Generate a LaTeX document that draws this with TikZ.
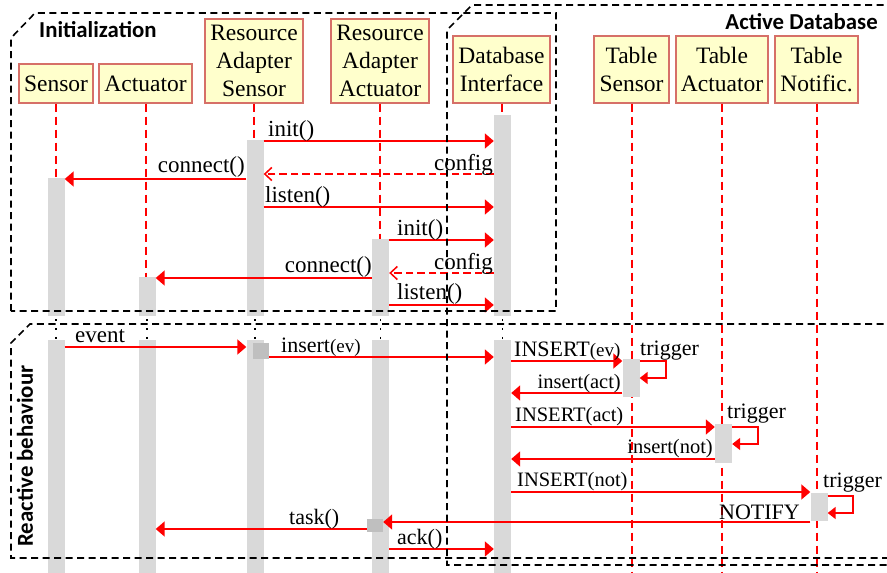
\documentclass[tikz,border=0pt]{standalone}
\usepackage{fontspec}
\setmainfont{Liberation Serif}
\newfontfamily\headsans{Carlito}
\usetikzlibrary{arrows.meta}

\definecolor{msgred}{RGB}{255,0,0}
\definecolor{boxfill}{RGB}{255,255,204}
\definecolor{boxline}{RGB}{214,112,104}
\definecolor{actgray}{RGB}{217,217,217}
\definecolor{sqgray}{RGB}{191,191,191}

\tikzset{
  headbox/.style={draw=boxline, line width=1.2pt, fill=boxfill, inner sep=0pt,
    align=center, font=\fontsize{23.5}{28}\selectfont},
  lifeline/.style={draw=msgred, line width=2pt, dash pattern=on 8pt off 5pt},
  actbar/.style={fill=actgray, draw=none, inner sep=0pt, minimum width=17pt},
  actsq/.style={fill=sqgray, draw=none, inner sep=0pt},
  msg/.style={draw=msgred, line width=1.8pt, -{Triangle[length=9pt,width=15pt]}},
  reply/.style={draw=msgred, line width=1.5pt, dash pattern=on 7.5pt off 4pt,
    -{Straight Barb[length=7pt,width=13pt,line width=1.5pt]}},
  selfmsg/.style={draw=msgred, line width=1.8pt, -{Triangle[length=8pt,width=12pt]}},
  lbl/.style={font=\fontsize{22}{24}\selectfont, inner sep=0pt},
  biglbl/.style={lbl, font=\fontsize{23}{25}\selectfont},
  dblbl/.style={lbl, font=\fontsize{20.5}{23}\selectfont},
  frame/.style={draw=black, line width=1.6pt, dash pattern=on 7pt off 4.5pt},
  ftitle/.style={font=\headsans\bfseries\fontsize{22.8}{26}\selectfont, inner sep=0pt},
  gapdots/.style={draw=black, line width=1.8pt, dash pattern=on 1.8pt off 7pt, dash phase=5.7pt},
}

\newcommand{\smallpar}[1]{{\fontsize{19}{21}\selectfont(#1)}}

\begin{document}
\begin{tikzpicture}[x=1pt, y=-1pt]
\path[use as bounding box] (0,0) rectangle (887,573);
\clip (0,0) rectangle (887,573);

% ---- participants ----
\node[headbox, minimum width=74pt, minimum height=39pt] (sensor) at (56,83.5) {Sensor};
\node[headbox, minimum width=93pt, minimum height=39pt] (actuator) at (145.5,83.5) {Actuator};
\node[headbox, minimum width=98pt, minimum height=84pt] (ras) at (254,61) {Resource\\Adapter\\Sensor};
\node[headbox, minimum width=98pt, minimum height=84pt] (raa) at (380,61) {Resource\\Adapter\\Actuator};
\node[headbox, minimum width=97pt, minimum height=67pt] (dbi) at (501.5,69.5) {Database\\Interface};
\node[headbox, minimum width=75pt, minimum height=67pt] (ts) at (631.5,69.5) {Table\\Sensor};
\node[headbox, minimum width=92pt, minimum height=67pt] (ta) at (722,69.5) {Table\\Actuator};
\node[headbox, minimum width=83pt, minimum height=67pt] (tn) at (816.5,69.5) {Table\\Notific.};

% ---- message levels ----
\coordinate (bottom) at (0,580);
\coordinate (m1) at (0,141);
\coordinate (m2) at (0,174);
\coordinate (m3) at (0,179);
\coordinate (m4) at (0,207);
\coordinate (m5) at (0,240);
\coordinate (m6) at (0,273);
\coordinate (m7) at (0,278);
\coordinate (m8) at (0,305);
\coordinate (m9) at (0,347);
\coordinate (m10) at (0,357);
\coordinate (m11) at (0,361);
\coordinate (m12) at (0,393);
\coordinate (m13) at (0,427);
\coordinate (m14) at (0,459);
\coordinate (m15) at (0,492);
\coordinate (m16) at (0,522);
\coordinate (m17) at (0,529);
\coordinate (m18) at (0,549);
\coordinate (t3) at (0,496);

% ---- activation bars: initialization ----
\node[actbar, minimum height=138pt] (bS1) at (56,247) {};
\node[actbar, minimum height=39pt] (bA1) at (147,296.5) {};
\node[actbar, minimum height=176pt] (bRS1) at (255,228) {};
\node[actbar, minimum height=77pt] (bRA1) at (380.5,277.5) {};
\node[actbar, minimum height=201pt] (bD1) at (502.5,215.5) {};

% ---- lifelines ----
\draw[lifeline] (sensor.south) -- (sensor.south |- bS1.north);
\draw[lifeline] (actuator.south) -- (actuator.south |- bA1.north);
\draw[lifeline] (ras.south) -- (ras.south |- bRS1.north);
\draw[lifeline] (raa.south) -- (raa.south |- bRA1.north);
\draw[lifeline] (dbi.south) -- (dbi.south |- bD1.north);
\draw[lifeline] (ts.south) -- (ts.south |- bottom);
\draw[lifeline] (ta.south) -- (ta.south |- bottom);
\draw[lifeline] (tn.south) -- (tn.south |- bottom);

% ---- activation bars: reactive behaviour ----
\node[actbar, minimum height=240pt] (bS2) at (56,460) {};
\node[actbar, minimum height=240pt] (bA2) at (147,460) {};
\node[actbar, minimum height=240pt] (bRS2) at (255,460) {};
\node[actbar, minimum height=240pt] (bRA2) at (380.5,460) {};
\node[actbar, minimum height=240pt] (bD2) at (502.5,460) {};
\node[actbar, minimum height=38pt] (bTS) at (631,378) {};
\node[actbar, minimum height=39pt] (bTA) at (723.5,443.5) {};
\node[actbar, minimum height=28pt] (bTN) at (819,507) {};
\node[actsq, minimum width=16pt, minimum height=16pt] (sqRS) at (261,351) {};
\node[actsq, minimum width=16pt, minimum height=13pt] (sqRA) at (375,525.5) {};

% ---- lifeline continuation between the two phases ----
\draw[gapdots] (bS1.south) -- (bS2.north);
\draw[gapdots] (bA1.south) -- (bA2.north);
\draw[gapdots] (bRS1.south) -- (bRS2.north);
\draw[gapdots] (bRA1.south) -- (bRA2.north);
\draw[gapdots] (bD1.south) -- (bD2.north);

% ---- initialization messages ----
\draw[msg] (bRS1.east |- m1) -- (bD1.west |- m1);
\node[biglbl, anchor=base west] (l1) at (268,136) {init()};
\draw[reply] (bD1.west |- m2) -- (bRS1.east |- m2);
\node[biglbl, anchor=base east] (l2) at (493,170) {config};
\draw[msg] (bRS1.west |- m3) -- (bS1.east |- m3);
\node[biglbl, anchor=base east] (l3) at (245,172) {connect()};
\draw[msg] (bRS1.east |- m4) -- (bD1.west |- m4);
\node[biglbl, anchor=base west] (l4) at (265,202) {listen()};
\draw[msg] (bRA1.east |- m5) -- (bD1.west |- m5);
\node[biglbl, anchor=base west] (l5) at (397,235) {init()};
\draw[reply] (bD1.west |- m6) -- (bRA1.east |- m6);
\node[biglbl, anchor=base east] (l6) at (493,269) {config};
\draw[msg] (bRA1.west |- m7) -- (bA1.east |- m7);
\node[biglbl, anchor=base east] (l7) at (372,272) {connect()};
\draw[msg] (bRA1.east |- m8) -- (bD1.west |- m8);
\node[biglbl, anchor=base west] (l8) at (397,299) {listen()};

% ---- reactive messages ----
\draw[msg] (bS2.east |- m9) -- (bRS2.west |- m9);
\node[biglbl, anchor=base west] (l9) at (75,342) {event};
\draw[msg] (sqRS.east |- m10) -- (bD2.west |- m10);
\node[lbl, anchor=base west] (l10) at (281,352) {insert\smallpar{ev}};
\draw[msg] (bD2.east |- m11) -- (bTS.west |- m11);
\node[lbl, anchor=base west] (l11) at (514,356) {INSERT\smallpar{ev}};
\draw[selfmsg] (bTS.east |- m11) -- ++(26.5,0) -- ++(0,17) -- ++(-26.5,0);
\node[lbl, anchor=base west] (tr1) at (640,355) {trigger};
\draw[msg] (bTS.west |- m12) -- (bD2.east |- m12);
\node[dblbl, anchor=base east] (l12) at (621,388) {insert(act)};
\draw[msg] (bD2.east |- m13) -- (bTA.west |- m13);
\node[dblbl, anchor=base west] (l13) at (515,421) {INSERT(act)};
\draw[selfmsg] (bTA.east |- m13) -- ++(26,0) -- ++(0,17) -- ++(-26,0);
\node[lbl, anchor=base west] (tr2) at (727,418) {trigger};
\draw[msg] (bTA.west |- m14) -- (bD2.east |- m14);
\node[dblbl, anchor=base east] (l14) at (713,453) {insert(not)};
\draw[msg] (bD2.east |- m15) -- (bTN.west |- m15);
\node[dblbl, anchor=base west] (l15) at (517,486) {INSERT(not)};
\draw[selfmsg] (bTN.east |- t3) -- ++(25.5,0) -- ++(0,17) -- ++(-25.5,0);
\node[lbl, anchor=base west] (tr3) at (823,487) {trigger};
\draw[msg] (bTN.west |- m16) -- (sqRA.east |- m16);
\node[lbl, anchor=base east] (l16) at (800,519) {NOTIFY};
\draw[msg] (sqRA.west |- m17) -- (bA2.east |- m17);
\node[lbl, anchor=base west] (l17) at (289,524) {task()};
\draw[msg] (bRA2.east |- m18) -- (bD2.west |- m18);
\node[lbl, anchor=base west] (l18) at (397,544) {ack()};

% ---- fragments ----
\draw[frame] (11,311) -- (11,38) -- (35,13) -- (556,13) -- (556,311) -- cycle;
\draw[frame] (895,5) -- (472,5) -- (447,30) -- (447,565) -- (895,565);
\draw[frame] (895,324) -- (30,324) -- (11,343) -- (11,558) -- (895,558);
\node[ftitle, anchor=west] (tinit) at (39,30) {Initialization};
\node[ftitle, anchor=east] (tadb) at (878,22) {Active Database};
\node[ftitle, rotate=90] (treact) at (25,456) {Reactive behaviour};
\end{tikzpicture}
\end{document}
